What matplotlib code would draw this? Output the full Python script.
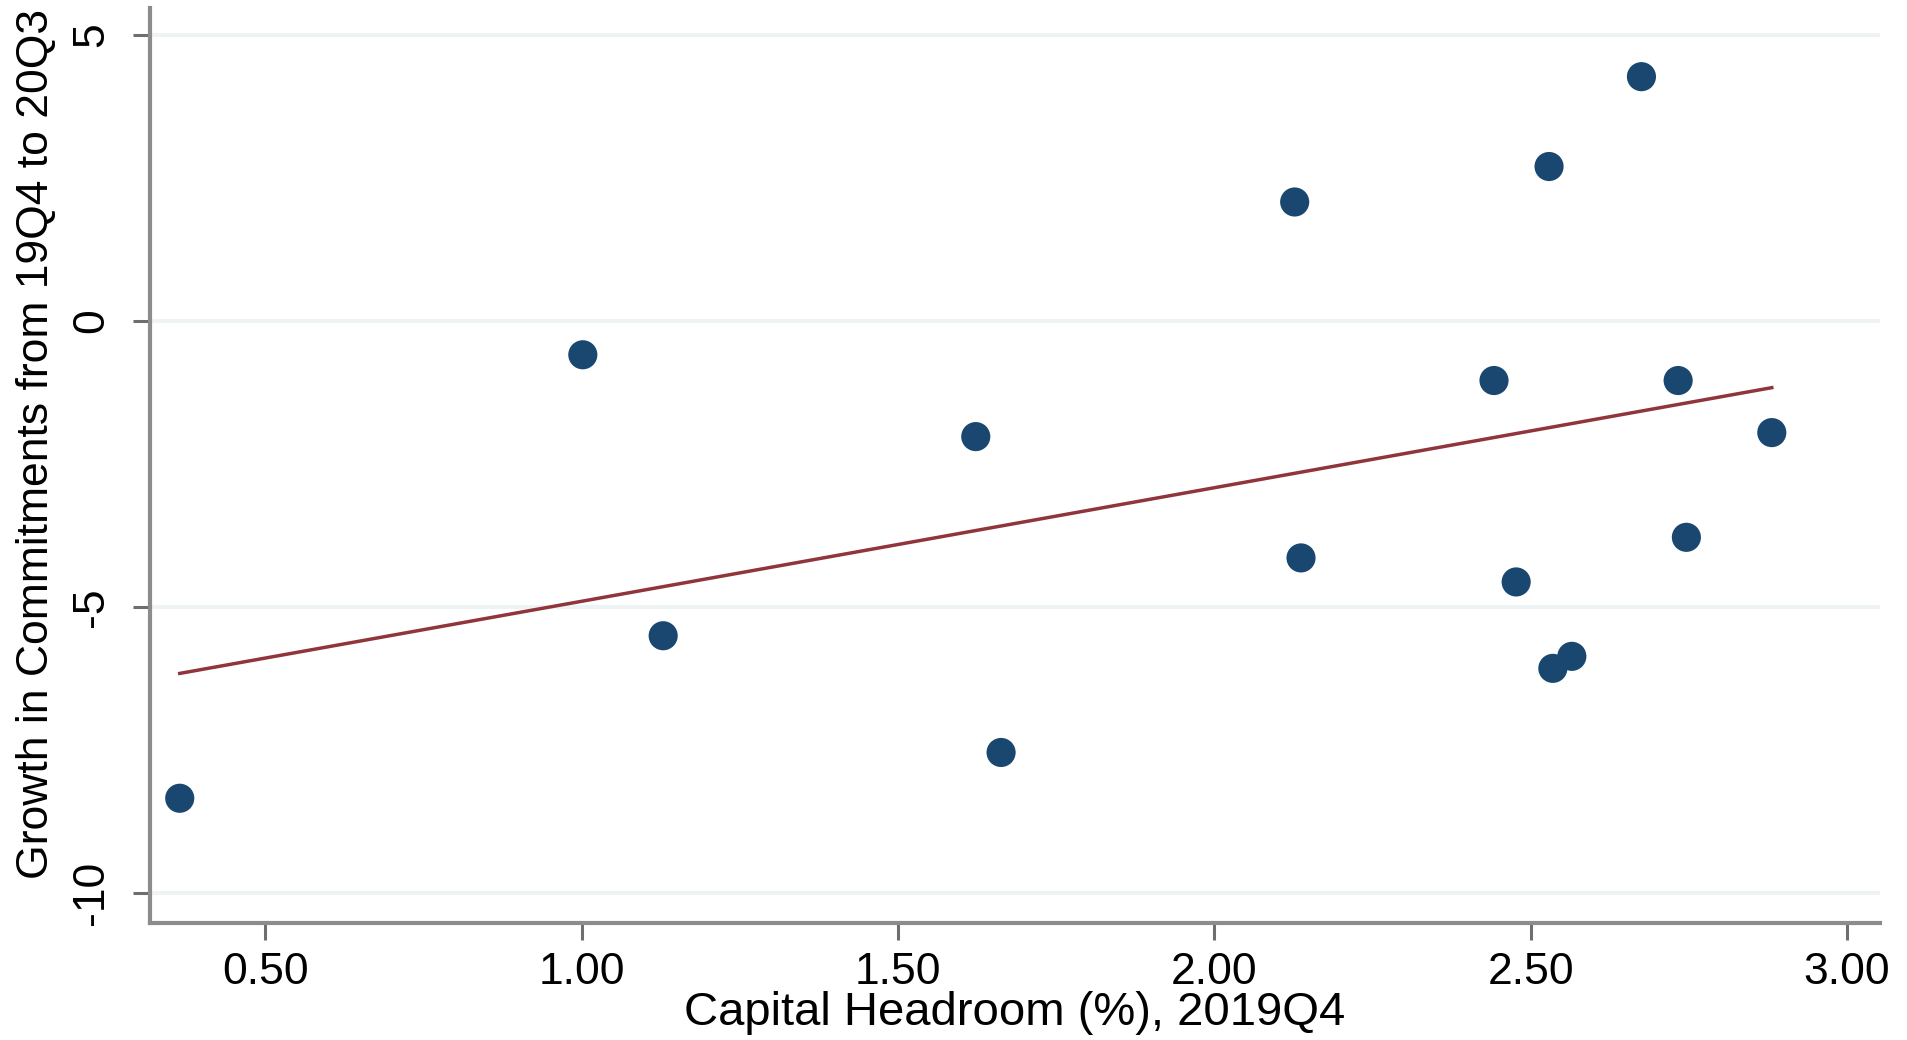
import numpy as np
import matplotlib
matplotlib.use('Agg')
import matplotlib.pyplot as plt

plt.rcParams['font.family'] = ['Liberation Sans', 'DejaVu Sans']

# capital headroom (%) and growth in commitments
headroom = [0.365, 1.002, 1.129, 1.623, 1.663, 2.127, 2.137, 2.442,
            2.477, 2.529, 2.535, 2.565, 2.675, 2.733, 2.746, 2.881]
growth = [-8.34, -0.59, -5.50, -2.02, -7.54, 2.08, -4.14, -1.04,
          -4.56, 2.70, -6.07, -5.86, 4.27, -1.04, -3.78, -1.95]

x_ticks = [0.5, 1.0, 1.5, 2.0, 2.5, 3.0]
y_ticks = [-10, -5, 0, 5]
y_tick_labels = ['-10', '-5', '0', '5']

x = np.array(headroom)
y = np.array(growth)

# linear fit over the data range (like Stata lfit)
b, a = np.polyfit(x, y, 1)
xfit = np.array([x.min(), x.max()])
yfit = a + b * xfit

fig = plt.figure(figsize=(19.08, 10.40), dpi=100)
ax = fig.add_axes([150 / 1908, 117 / 1040, 1730 / 1908, 915 / 1040])

ax.scatter(x, y, s=440, color='#1a476f', edgecolors='none', zorder=3)
ax.plot(xfit, yfit, color='#90353b', lw=2.5, zorder=2)

ax.set_xlim(0.318, 3.052)
ax.set_ylim(-10.52, 5.47)

ax.set_xticks(x_ticks)
ax.set_xticklabels([f'{v:.2f}' for v in x_ticks])
ax.set_yticks(y_ticks)
ax.set_yticklabels(y_tick_labels, rotation=90, va='center')

ax.grid(axis='y', color='#eef3f4', lw=3)
ax.set_axisbelow(True)

for s in ['top', 'right']:
    ax.spines[s].set_visible(False)
for s in ['left', 'bottom']:
    ax.spines[s].set_color('#8c8c8c')
    ax.spines[s].set_linewidth(3)

ax.tick_params(axis='both', length=12, width=2.2, color='#6e6e6e',
               labelsize=32, labelcolor='black')
ax.tick_params(axis='x', pad=9)
ax.tick_params(axis='y', pad=15)

fig.text(1015 / 1908, 1 - 1013 / 1040, 'Capital Headroom (%), 2019Q4',
         ha='center', va='center', fontsize=34)
fig.text(37 / 1908, 1 - 444 / 1040, 'Growth in Commitments from 19Q4 to 20Q3',
         ha='center', va='center', rotation=90, fontsize=32)

fig.savefig('out.png', dpi=100, facecolor='white')
